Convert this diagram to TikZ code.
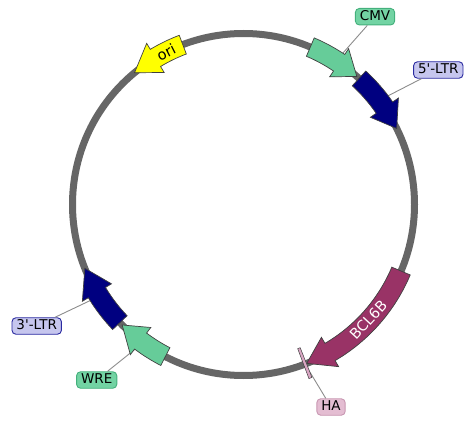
\documentclass[tikz,border=0pt]{standalone}
\usepackage{fontspec}
\setmainfont{DejaVu Sans}
\newfontfamily\plainfont{DejaVu Sans}
\definecolor{ringgray}{HTML}{666666}
\definecolor{cmvgreen}{HTML}{66CC99}
\definecolor{ltrnavy}{HTML}{000080}
\definecolor{oriyellow}{HTML}{FFFF00}
\definecolor{bclmaroon}{HTML}{993366}
\definecolor{hapink}{HTML}{D9A6C3}
\definecolor{lgreenfill}{HTML}{72D3A3}
\definecolor{lgreendraw}{HTML}{44B07C}
\definecolor{lnavyfill}{HTML}{C6C6EE}
\definecolor{lnavydraw}{HTML}{2A2AA0}
\definecolor{lpinkfill}{HTML}{E4BDD2}
\definecolor{lpinkdraw}{HTML}{C896B2}
% feature arrow: #1 start angle, #2 head-base angle, #3 tip angle, #4 style
\newcommand\featarr[4]{%
  \path[#4] (#1:181) arc[start angle=#1, end angle=#2, radius=181]
    -- (#2:188) -- (#3:171) -- (#2:154) -- (#2:161)
    arc[start angle=#2, end angle=#1, radius=161] -- cycle;}
\begin{document}
\begin{tikzpicture}[x=1pt,y=1pt,
  feat/.style={draw=black!75, line width=0.7pt, line join=miter},
  lbl/.style={rounded corners=4pt, line width=0.9pt,
    font=\plainfont\fontsize{13.5}{14}\selectfont, inner xsep=4.5pt, inner ysep=2pt,
    text height=10pt, text depth=2.5pt},
  lblgreen/.style={lbl, draw=lgreendraw, fill=lgreenfill},
  lblnavy/.style={lbl, draw=lnavydraw, fill=lnavyfill},
  lblpink/.style={lbl, draw=lpinkdraw, fill=lpinkfill},
  conn/.style={draw=black!45, line width=0.9pt},
  ftext/.style={font=\plainfont\fontsize{14.5}{15}\selectfont, inner sep=0pt}]
\useasboundingbox (0,0) rectangle (466,421);
% labels
\node[lblgreen] (lCMV) at (375,404.3) {CMV};
\node[lblnavy]  (lLTR5) at (438.3,351) {5'-LTR};
\node[lblnavy]  (lLTR3) at (36.7,95) {3'-LTR};
\node[lblgreen] (lWRE) at (96.7,41) {WRE};
\node[lblpink]  (lHA) at (331,14) {HA};
\begin{scope}[shift={(243.5,216.5)}]
  \draw[ringgray, line width=7pt] (0,0) circle[radius=171];
  \coordinate (cCMV) at (57.2:171);
  \coordinate (cLTR5) at (37.5:171);
  \coordinate (cLTR3) at (212.5:170);
  \coordinate (cWRE) at (234:171);
  \coordinate (cHA) at (-68.9:171);
  \draw[conn] (lCMV) -- (cCMV);
  \draw[conn] (lLTR5) -- (cLTR5);
  \draw[conn] (lLTR3) -- (cLTR3);
  \draw[conn] (lWRE) -- (cWRE);
  \draw[conn] (lHA) -- (cHA);
  % features
  \featarr{67}{56}{48.5}{feat, fill=cmvgreen}
  \featarr{47.5}{34.5}{26.4}{feat, fill=ltrnavy}
  \featarr{110.8}{121}{129.6}{feat, fill=oriyellow}
  \featarr{-22.9}{-59.6}{-68.3}{feat, fill=bclmaroon}
  \featarr{242.8}{233}{224.8}{feat, fill=cmvgreen}
  \featarr{223.7}{211}{201.9}{feat, fill=ltrnavy}
  \path[feat, fill=hapink, line width=0.5pt] (-68.4:154) arc[start angle=-68.4, end angle=-69.4, radius=154]
    -- (-69.4:186) arc[start angle=-69.4, end angle=-68.4, radius=186] -- cycle;
  \node[ftext, rotate=26.9] (tori) at (116.9:171) {ori};
  \node[ftext, text=white, rotate=47.2] (tbcl) at (-42.8:170) {BCL6B};
\end{scope}
\end{tikzpicture}
\end{document}
